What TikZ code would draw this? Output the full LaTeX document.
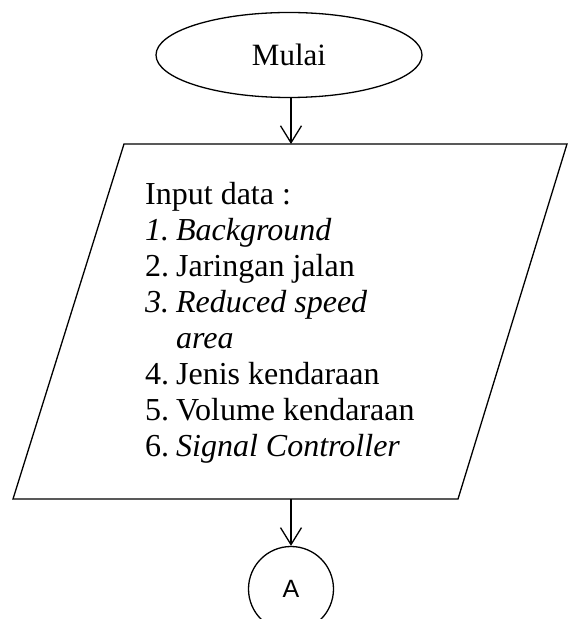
\documentclass[tikz,border=0pt]{standalone}
\usepackage{fontspec}
\setmainfont{Liberation Serif}
\newfontfamily\arialfont{Liberation Sans}
\usetikzlibrary{shapes.geometric,arrows.meta}
\tikzset{
  lw/.style={line width=1.3pt},
  flowarrow/.style={lw,-{Straight Barb[length=17pt,width=21pt]}},
  txt/.style={anchor=base west,inner sep=0pt,font=\fontsize{32pt}{36pt}\selectfont},
}
\newcommand{\numbox}[1]{\makebox[31pt][l]{#1}}
\begin{document}
\begin{tikzpicture}[x=1pt,y=1pt]
\useasboundingbox (0,0) rectangle (568,619);
% start terminal
\node[ellipse,draw,lw,minimum width=266pt,minimum height=85pt,inner sep=0pt,
      font=\fontsize{31pt}{36pt}\selectfont] (mulai) at (289,564) {Mulai};
% input parallelogram
\coordinate (tl) at (124,475);
\coordinate (tr) at (567,475);
\coordinate (br) at (458,120);
\coordinate (bl) at (13,120);
\coordinate (ptop) at (291,475);
\coordinate (pbot) at (291,120);
\draw[lw,line join=miter] (tl) -- (tr) -- (br) -- (bl) -- cycle;
% text lines
\node[txt] (t0) at (145,414) {Input data :};
\node[txt] (t1) at (145,378) {\itshape\numbox{1.}Background};
\node[txt] (t2) at (145,342) {\numbox{2.}Jaringan jalan};
\node[txt] (t3) at (145,306) {\itshape\numbox{3.}Reduced speed};
\node[txt] (t4) at (145,270) {\itshape\numbox{}area};
\node[txt] (t5) at (145,234) {\numbox{4.}Jenis kendaraan};
\node[txt] (t6) at (145,198) {\numbox{5.}Volume kendaraan};
\node[txt] (t7) at (145,162) {\numbox{6.}\textit{Signal Controller}};
% connector circle
\node[circle,draw,lw,minimum size=85pt,inner sep=0pt,
      font=\arialfont\fontsize{25pt}{30pt}\selectfont] (conA) at (291,30) {A};
% arrows
\draw[flowarrow] (mulai.south -| ptop) -- (ptop);
\draw[flowarrow] (pbot) -- (conA.north);
\end{tikzpicture}
\end{document}
